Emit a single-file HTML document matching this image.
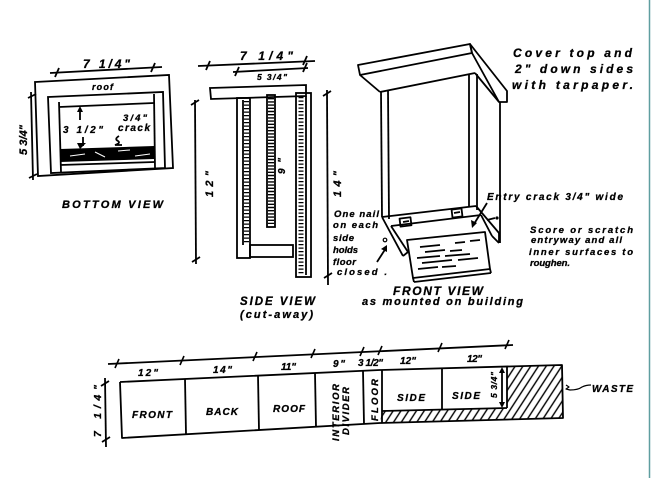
<!DOCTYPE html>
<html><head><meta charset="utf-8"><style>
html,body{margin:0;padding:0;background:#fff;}
svg{display:block;}
text{font-family:"Liberation Sans",sans-serif;font-weight:bold;font-style:italic;fill:#000;stroke:#000;stroke-width:0.3;}
</style></head><body>
<svg width="662" height="478" viewBox="0 0 662 478" xmlns="http://www.w3.org/2000/svg">
<defs>
<pattern id="h" patternUnits="userSpaceOnUse" width="6.5" height="6.5" patternTransform="rotate(33)">
<line x1="1" y1="-1" x2="1" y2="8" stroke="#000" stroke-width="1.4"/>
</pattern>
</defs>
<rect x="0" y="0" width="662" height="478" fill="#fff"/>
<line x1="649.5" y1="0" x2="649.5" y2="478" stroke="#5f9ea0" stroke-width="1.5"/>

<!-- BOTTOM VIEW -->
<g fill="none" stroke="#000" stroke-width="1.8">
<polygon points="35,82 169,75 173,168 38,176"/>
<polygon points="48,97 163,92 165,168 51,173"/>
<line x1="59" y1="102" x2="61" y2="172"/>
<line x1="154" y1="94" x2="155" y2="168"/>
<line x1="59" y1="107" x2="154" y2="103"/>
<line x1="60" y1="165" x2="155" y2="162"/>
<line x1="50" y1="73" x2="162" y2="67"/>
<line x1="55" y1="77" x2="59" y2="68"/>
<line x1="151" y1="72" x2="155" y2="63"/>
<line x1="31" y1="92" x2="33" y2="180"/>
<line x1="28" y1="98" x2="36" y2="94"/>
<line x1="29" y1="178" x2="37" y2="174"/>
<line x1="80" y1="109" x2="80" y2="120"/>
<line x1="83" y1="137" x2="83" y2="146"/>
<path d="M119,136 Q114,139 118,141 Q121,143 115,145 L122,145"/>
</g>
<path d="M77,112 L80,106 L83,112 Z M80,149 L77,143 L86,143 Z" fill="#000"/>
<polygon points="60,149 154,146 154,159 60,162" fill="#000"/>
<g stroke="#fff" stroke-width="1">
<line x1="70" y1="156" x2="85" y2="154"/><line x1="95" y1="152" x2="105" y2="157"/><line x1="118" y1="151" x2="130" y2="150"/><line x1="135" y1="156" x2="150" y2="154"/>
</g>
<text x="83" y="68" font-size="12" textLength="47" lengthAdjust="spacing">7 1/4"</text>
<text x="92" y="90" font-size="9" textLength="21" lengthAdjust="spacing">roof</text>
<text x="63" y="133" font-size="10" textLength="40" lengthAdjust="spacing">3 1/2"</text>
<text x="123" y="121" font-size="9.5" textLength="24" lengthAdjust="spacing">3/4"</text>
<text x="118" y="131" font-size="10" textLength="32" lengthAdjust="spacing">crack</text>
<text transform="translate(27,140) rotate(-90)" x="-15" y="0" font-size="11" textLength="30" lengthAdjust="spacing">5 3/4"</text>
<text x="62" y="208" font-size="11" textLength="101" lengthAdjust="spacing">BOTTOM VIEW</text>

<!-- SIDE VIEW -->
<g fill="none" stroke="#000" stroke-width="1.8">
<line x1="198" y1="66" x2="315" y2="61"/>
<line x1="206" y1="70" x2="210" y2="61"/>
<line x1="303" y1="65" x2="307" y2="56"/>
<line x1="233" y1="72" x2="308" y2="68"/>
<line x1="235" y1="76" x2="239" y2="67"/>
<line x1="303" y1="72" x2="307" y2="63"/>
<polygon points="210,88 306,85 306,96 211,99"/>
<rect x="237" y="98" width="13" height="160"/>
<line x1="243" y1="100" x2="243" y2="245"/>
<rect x="250" y="245" width="43" height="12"/>
<rect x="267" y="95" width="8" height="132"/>
<rect x="296" y="93" width="15" height="184"/>
<line x1="306" y1="96" x2="306" y2="275"/>
<line x1="195" y1="100" x2="196" y2="264"/>
<line x1="191" y1="105" x2="199" y2="100"/>
<line x1="192" y1="262" x2="200" y2="257"/>
<line x1="327" y1="90" x2="328" y2="285"/>
<line x1="323" y1="96" x2="331" y2="91"/>
<line x1="324" y1="278" x2="332" y2="273"/>
</g>
<g stroke="#000" fill="none">
<line x1="246.5" y1="101" x2="246.5" y2="243" stroke-width="5" stroke-dasharray="1.3 2.2"/>
<line x1="271" y1="98" x2="271" y2="224" stroke-width="6" stroke-dasharray="1.4 1.8"/>
<line x1="301" y1="97" x2="301" y2="274" stroke-width="5" stroke-dasharray="1.3 2.2"/>
</g>
<text x="240" y="60" font-size="12" textLength="53" lengthAdjust="spacing">7  1/4"</text>
<text x="257" y="80" font-size="8.5" textLength="30" lengthAdjust="spacing">5 3/4"</text>
<text transform="translate(213,184) rotate(-90)" x="-13" y="0" font-size="11" textLength="26" lengthAdjust="spacing">12"</text>
<text transform="translate(285,166) rotate(-90)" x="-8" y="0" font-size="10" textLength="16" lengthAdjust="spacing">9"</text>
<text transform="translate(341,184) rotate(-90)" x="-13" y="0" font-size="11" textLength="26" lengthAdjust="spacing">14"</text>
<text x="240" y="305" font-size="11.5" textLength="75" lengthAdjust="spacing">SIDE VIEW</text>
<text x="240" y="318" font-size="11" textLength="73" lengthAdjust="spacing">(cut-away)</text>

<!-- FRONT VIEW -->
<g fill="none" stroke="#000" stroke-width="1.8" stroke-linejoin="round">
<polygon points="358,65 470,44 472,53 360,75"/>
<polygon points="470,44 507,91 507,102 499,102 472,53"/>
<line x1="360" y1="75" x2="380" y2="92"/>
<line x1="380" y1="92" x2="475" y2="73"/>
<line x1="475" y1="73" x2="499" y2="102"/>
<line x1="381" y1="91" x2="382" y2="217"/>
<line x1="388" y1="90" x2="389" y2="219"/>
<line x1="469" y1="75" x2="469" y2="207"/>
<line x1="477" y1="74" x2="477" y2="210"/>
<line x1="500" y1="102" x2="500" y2="243"/>
<line x1="382" y1="217" x2="476" y2="206"/>
<line x1="391" y1="226" x2="481" y2="215"/>
<line x1="382" y1="217" x2="403" y2="256"/>
<line x1="391" y1="226" x2="408" y2="252"/>
<line x1="403" y1="256" x2="408" y2="252"/>
<line x1="476" y1="206" x2="499" y2="233"/>
<line x1="481" y1="215" x2="492" y2="236"/>
<line x1="499" y1="233" x2="499" y2="243"/>
<line x1="492" y1="236" x2="499" y2="243"/>
<polygon points="407,240 485,232 490,269 413,278"/>
<line x1="414" y1="282" x2="491" y2="273"/>
<line x1="413" y1="278" x2="414" y2="282"/>
<line x1="490" y1="269" x2="491" y2="273"/>
<rect x="400" y="218" width="11" height="8" transform="rotate(-7 405 222)"/>
<rect x="452" y="209" width="10" height="8" transform="rotate(-7 457 213)"/>
<line x1="403" y1="222" x2="409" y2="221"/>
<line x1="454" y1="213" x2="460" y2="212"/>
<line x1="487" y1="203" x2="474" y2="224"/>
<line x1="377" y1="262" x2="386" y2="248"/>
<line x1="487" y1="220" x2="495" y2="218"/>
</g>
<path d="M472,228 L471,220 L477,223 Z M387,245 L381,249 L387,252 Z" fill="#000"/>
<circle cx="385" cy="240" r="1.8" fill="none" stroke="#000" stroke-width="1.2"/>
<circle cx="497" cy="218" r="1.6" fill="#000"/>
<g stroke="#000" stroke-width="1.8">
<line x1="420" y1="247" x2="440" y2="245"/><line x1="455" y1="243" x2="465" y2="242"/><line x1="470" y1="241" x2="480" y2="240"/>
<line x1="425" y1="252" x2="445" y2="250"/><line x1="450" y1="251" x2="462" y2="250"/>
<line x1="417" y1="258" x2="440" y2="256"/><line x1="445" y1="256" x2="470" y2="254"/>
<line x1="422" y1="263" x2="452" y2="260"/><line x1="458" y1="260" x2="478" y2="258"/>
<line x1="418" y1="269" x2="438" y2="267"/><line x1="442" y1="267" x2="456" y2="266"/>
</g>
<text x="513" y="57" font-size="12" textLength="119" lengthAdjust="spacing">Cover top and</text>
<text x="515" y="73" font-size="12" textLength="118" lengthAdjust="spacing">2" down sides</text>
<text x="512" y="89" font-size="12" textLength="121" lengthAdjust="spacing">with tarpaper.</text>
<text x="487" y="200" font-size="10" textLength="136" lengthAdjust="spacing">Entry crack 3/4" wide</text>
<text x="530" y="233" font-size="9.5" textLength="103" lengthAdjust="spacing">Score or scratch</text>
<text x="531" y="243" font-size="9.5" textLength="91" lengthAdjust="spacing">entryway and all</text>
<text x="529" y="255" font-size="9.5" textLength="104" lengthAdjust="spacing">inner surfaces to</text>
<text x="530" y="266" font-size="9.5" textLength="40" lengthAdjust="spacing">roughen.</text>
<text x="334" y="217" font-size="9.5" textLength="45" lengthAdjust="spacing">One nail</text>
<text x="333" y="228" font-size="9.5" textLength="45" lengthAdjust="spacing">on each</text>
<text x="333" y="241" font-size="9.5" textLength="21" lengthAdjust="spacing">side</text>
<text x="333" y="253" font-size="9.5" textLength="25" lengthAdjust="spacing">holds</text>
<text x="333" y="265" font-size="9.5" textLength="23" lengthAdjust="spacing">floor</text>
<text x="337" y="275" font-size="9.5" textLength="50" lengthAdjust="spacing">closed .</text>
<text x="393" y="295" font-size="12" textLength="90" lengthAdjust="spacing">FRONT VIEW</text>
<text x="362" y="305" font-size="11" textLength="161" lengthAdjust="spacing">as mounted on building</text>

<!-- CUTTING DIAGRAM -->
<polygon points="382,411 507,408 507,366.5 562,365 563,418 380,423" fill="url(#h)"/>
<g fill="none" stroke="#000" stroke-width="1.8" stroke-linejoin="round">
<polyline points="120,382 380,370 562,365 563,418 380,423 122,438 120,382"/>
<line x1="185" y1="379" x2="186" y2="434"/>
<line x1="258" y1="375.6" x2="259" y2="430"/>
<line x1="315" y1="373" x2="316" y2="427"/>
<line x1="363" y1="370.8" x2="364" y2="424"/>
<line x1="382" y1="369.9" x2="382" y2="423"/>
<line x1="442" y1="368.3" x2="442" y2="410"/>
<line x1="507" y1="366.5" x2="507" y2="408"/>
<line x1="382" y1="411" x2="507" y2="408"/>
<line x1="108" y1="364" x2="513" y2="345"/>
<line x1="502" y1="371" x2="502" y2="404"/>
<line x1="105" y1="378" x2="106" y2="447"/>
<line x1="101" y1="386" x2="109" y2="381"/>
<line x1="102" y1="442" x2="110" y2="437"/>
<path d="M566,385 l3,2 l-3,2 l4,1 q8,0 12,-3 q4,-2 9,-2" stroke-width="1.2"/>
</g>
<g stroke="#000" stroke-width="1.6">
<line x1="115" y1="368" x2="119" y2="359"/>
<line x1="180" y1="365" x2="184" y2="356"/>
<line x1="253" y1="361" x2="257" y2="352"/>
<line x1="311" y1="358" x2="315" y2="349"/>
<line x1="360" y1="356" x2="364" y2="347"/>
<line x1="378" y1="355" x2="382" y2="346"/>
<line x1="438" y1="352" x2="442" y2="343"/>
<line x1="505" y1="349" x2="509" y2="340"/>
</g>
<path d="M502,367 L499,373 L505,373 Z M502,408 L499,402 L505,402 Z" fill="#000"/>
<text x="138" y="376" font-size="10" textLength="20" lengthAdjust="spacing">12"</text>
<text x="213" y="373" font-size="10" textLength="19" lengthAdjust="spacing">14"</text>
<text x="281" y="370" font-size="10" textLength="15" lengthAdjust="spacing">11"</text>
<text x="333" y="367" font-size="10" textLength="12" lengthAdjust="spacing">9"</text>
<text x="358" y="366" font-size="10" textLength="25" lengthAdjust="spacing">3 1/2"</text>
<text x="400" y="364" font-size="10" textLength="16" lengthAdjust="spacing">12"</text>
<text x="467" y="362" font-size="10" textLength="15" lengthAdjust="spacing">12"</text>
<text x="132" y="418" font-size="10" textLength="40" lengthAdjust="spacing">FRONT</text>
<text x="206" y="415" font-size="10" textLength="32" lengthAdjust="spacing">BACK</text>
<text x="273" y="412" font-size="10" textLength="32" lengthAdjust="spacing">ROOF</text>
<text x="397" y="401" font-size="10" textLength="28" lengthAdjust="spacing">SIDE</text>
<text x="452" y="399" font-size="10" textLength="28" lengthAdjust="spacing">SIDE</text>
<text x="592" y="392" font-size="10" textLength="41" lengthAdjust="spacing">WASTE</text>
<text transform="translate(339,412) rotate(-90)" x="-29" y="0" font-size="9.5" textLength="57" lengthAdjust="spacing">INTERIOR</text>
<text transform="translate(349,411) rotate(-90)" x="-24" y="0" font-size="9.5" textLength="48" lengthAdjust="spacing">DIVIDER</text>
<text transform="translate(378,400) rotate(-90)" x="-21" y="0" font-size="9.5" textLength="42" lengthAdjust="spacing">FLOOR</text>
<text transform="translate(497,385) rotate(-90)" x="-13" y="0" font-size="8.5" textLength="26" lengthAdjust="spacing">5 3/4"</text>
<text transform="translate(101,411) rotate(-90)" x="-26" y="0" font-size="10.5" textLength="52" lengthAdjust="spacing">7 1/4"</text>
</svg>
</body></html>
